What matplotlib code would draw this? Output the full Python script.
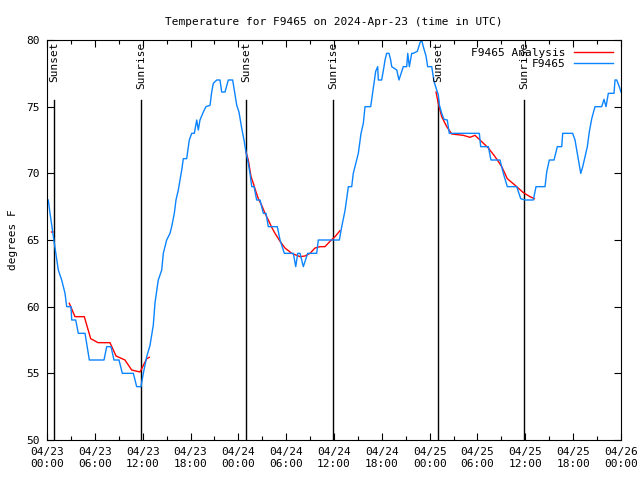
import numpy as np
import matplotlib
matplotlib.use('Agg')
import matplotlib.pyplot as plt
from matplotlib.ticker import MultipleLocator

# hours since 2024-04-23 00:00 UTC, temperature in degrees F
obs_hours = [0.16, 0.38, 0.92, 1.42, 1.84, 2.26, 2.47, 3.01, 3.10, 3.60, 3.93, 4.77,
             5.31, 7.15, 7.49, 8.03, 8.40, 9.03, 9.45, 10.83, 11.25, 11.79, 12.08,
             12.51, 12.92, 13.33, 13.55, 13.96, 14.39, 14.59, 15.01, 15.43, 15.64,
             15.97, 16.18, 16.47, 16.68, 16.90, 17.10, 17.52, 17.85, 18.15, 18.48,
             18.78, 18.98, 19.19, 19.61, 19.94, 20.45, 20.66, 20.86, 21.29, 21.70,
             21.91, 22.33, 22.74, 23.29, 23.80, 24.08, 24.42, 24.71, 24.96, 25.25,
             25.46, 25.68, 25.97, 26.30, 26.72, 27.13, 27.47, 27.76, 28.89, 29.23,
             29.77, 30.90, 31.20, 31.45, 31.74, 32.15, 32.70, 33.83, 34.03, 36.67,
             36.97, 37.38, 37.80, 38.22, 38.42, 38.76, 39.05, 39.39, 39.68, 39.89,
             40.60, 40.93, 41.23, 41.48, 41.56, 41.98, 42.27, 42.40, 42.61, 42.90,
             43.11, 43.24, 43.87, 44.15, 44.37, 44.69, 45.12, 45.25, 45.45, 45.75,
             45.95, 46.45, 46.79, 47.00, 47.20, 47.54, 47.75, 48.26, 48.54, 48.80,
             49.08, 49.21, 49.51, 49.80, 50.21, 50.46, 54.23, 54.40, 55.36, 55.69,
             56.82, 57.24, 57.74, 58.92, 59.42, 59.96, 61.00, 61.34, 62.47, 62.68,
             63.01, 63.60, 64.01, 64.56, 64.69, 65.94, 66.23, 66.52, 66.95, 67.20,
             67.49, 67.78, 68.02, 68.33, 68.74, 69.58, 69.87, 70.12, 70.41, 71.12,
             71.25, 71.46, 71.79, 72.0]
obs_temp = [68, 67, 64.75, 62.75, 62, 61, 60, 60, 59, 59, 58, 58,
            56, 56, 57, 57, 56, 56, 55, 55, 54, 54, 55,
            56.25, 57.1, 58.6, 60.3, 62, 62.75, 64, 65, 65.5, 66,
            67, 68, 68.75, 69.5, 70.25, 71.1, 71.1, 72.5, 73, 73,
            74, 73.25, 74, 74.6, 75, 75.1, 76.1, 76.75, 77, 77,
            76.1, 76.1, 77, 77, 75.1, 74.6, 73.4, 72.5, 71.6, 70.75,
            70, 69, 69, 68, 68, 67, 67, 66, 66, 65,
            64, 64, 63, 64, 64, 63, 64, 64, 65, 65,
            66, 67.2, 69, 69, 70, 70.8, 71.5, 73, 73.75, 75,
            75, 76.4, 77.65, 78, 77, 77, 78, 78.5, 79, 79,
            78.5, 78, 77.75, 77, 77.4, 78, 78, 79, 78, 79,
            79, 79.15, 79.8, 80, 79.5, 78.8, 78, 78, 76.9, 76.4,
            75.9, 75.15, 74.5, 74.05, 74, 73, 73, 72, 72, 71,
            71, 70, 69, 69, 68.1, 68, 68, 69, 69, 70.1,
            71, 71, 72, 72, 73, 73, 72.5, 71.5, 70, 70.5,
            71.25, 72, 73.1, 74.1, 75, 75, 75.55, 75, 76, 76,
            77, 77, 76.5, 76.1]

# analysis, NaN marks the gaps between runs
ana_hours = [0.56, 0.75, np.nan,
             2.80, 3.51, 4.68, 5.48, 6.40, 7.90, 8.66, 9.78, 10.62, 11.67, 12.51, 12.83, np.nan,
             24.96, 25.25, 25.59, 25.88, 26.22, 26.51, 26.93, 27.35, 27.76, 28.19, 28.60,
             29.23, 29.85, 30.70, 31.74, 32.36, 32.99, 33.62, 34.24, 34.87, 35.50, 36.13, 36.75, np.nan,
             48.80, 49.08, 49.51, 50.14, 50.77, 52.22, 53.06, 53.69, 54.31, 55.36, 56.20,
             57.04, 57.74, 58.92, 59.75, 60.59, 61.13]
ana_temp = [65.6, 65.6, np.nan,
            60.25, 59.25, 59.25, 57.6, 57.3, 57.3, 56.3, 56, 55.25, 55.1, 56.1, 56.2, np.nan,
            71.6, 71, 69.75, 69.25, 68.6, 68.1, 67.6, 67, 66.5, 65.95, 65.5,
            64.9, 64.4, 64, 63.75, 63.8, 64, 64.4, 64.5, 64.5, 64.9, 65.25, 65.7, np.nan,
            76.1, 75.25, 74.25, 73.5, 72.95, 72.85, 72.7, 72.85, 72.5, 71.9, 71.25,
            70.5, 69.6, 69, 68.55, 68.25, 68.1]

sun_hours = [0.9, 11.79, 24.96, 35.92, 49.08, 59.88]
sun_names = ['Sunset', 'Sunrise', 'Sunset', 'Sunrise', 'Sunset', 'Sunrise']

tick_hours = list(range(0, 73, 6))
tick_labels = ['04/23\n00:00', '04/23\n06:00', '04/23\n12:00', '04/23\n18:00',
               '04/24\n00:00', '04/24\n06:00', '04/24\n12:00', '04/24\n18:00',
               '04/25\n00:00', '04/25\n06:00', '04/25\n12:00', '04/25\n18:00',
               '04/26\n00:00']

plt.rcParams['font.family'] = ['DejaVu Sans Mono']
plt.rcParams['font.size'] = 8

fig = plt.figure(figsize=(6.4, 4.8), dpi=100)
ax = fig.add_axes([47 / 640, 40 / 480, 574 / 640, 400 / 480])

for h, name in zip(sun_hours, sun_names):
    ax.plot([h, h], [50, 75.5], color='black', lw=1.0)
    ax.text(h, 79.85, name, rotation=90, ha='center', va='top', fontsize=8)

ax.plot(ana_hours, ana_temp, color='#ff0000', lw=1.0, label='F9465 Analysis')
ax.plot(obs_hours, obs_temp, color='#0a84ff', lw=1.0, label='F9465')

ax.set_xlim(0, 72)
ax.set_ylim(50, 80)
ax.set_xticks(tick_hours)
ax.set_xticklabels(tick_labels)
ax.xaxis.set_minor_locator(MultipleLocator(3))
ax.yaxis.set_major_locator(MultipleLocator(5))
ax.tick_params(which='both', direction='in', top=True, right=True, width=0.8)
ax.tick_params(which='major', length=5, pad=5)
ax.tick_params(which='minor', length=3)
for s in ax.spines.values():
    s.set_linewidth(0.8)

ax.set_ylabel('degrees F', labelpad=6)
ax.set_title('Temperature for F9465 on 2024-Apr-23 (time in UTC)', fontsize=8, pad=11)
ax.legend(loc='upper right', frameon=False, markerfirst=False, handlelength=3.5,
          borderaxespad=0.3, labelspacing=0.1, handletextpad=0.8)

fig.savefig('out.png', dpi=100)
